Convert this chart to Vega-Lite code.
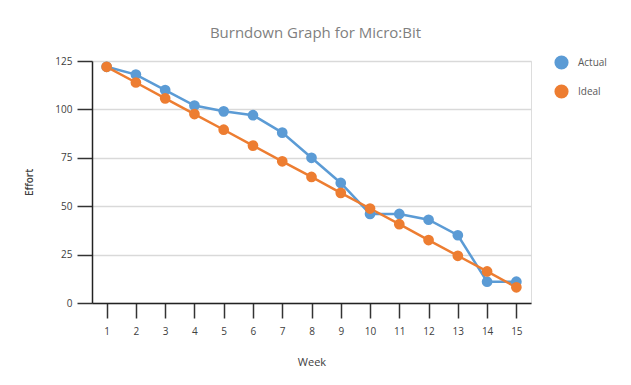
{
  "$schema": "https://vega.github.io/schema/vega-lite/v6.json",
  "width": 439,
  "height": 242,
  "autosize": "none",
  "padding": {"left": 92, "top": 61, "right": 100, "bottom": 82},
  "background": "white",
  "title": {
    "text": "Burndown Graph for Micro:Bit",
    "font": "Open Sans",
    "fontSize": 15,
    "fontWeight": "normal",
    "color": "#7f7f7f",
    "anchor": "middle",
    "dx": 4,
    "offset": 14
  },
  "data": {
    "values": [
      {"week": 1, "series": "Actual", "effort": 122},
      {"week": 2, "series": "Actual", "effort": 118},
      {"week": 3, "series": "Actual", "effort": 110},
      {"week": 4, "series": "Actual", "effort": 102},
      {"week": 5, "series": "Actual", "effort": 99},
      {"week": 6, "series": "Actual", "effort": 97},
      {"week": 7, "series": "Actual", "effort": 88},
      {"week": 8, "series": "Actual", "effort": 75},
      {"week": 9, "series": "Actual", "effort": 62},
      {"week": 10, "series": "Actual", "effort": 46},
      {"week": 11, "series": "Actual", "effort": 46},
      {"week": 12, "series": "Actual", "effort": 43},
      {"week": 13, "series": "Actual", "effort": 35},
      {"week": 14, "series": "Actual", "effort": 11},
      {"week": 15, "series": "Actual", "effort": 11},
      {"week": 1, "series": "Ideal", "effort": 122},
      {"week": 2, "series": "Ideal", "effort": 113.9},
      {"week": 3, "series": "Ideal", "effort": 105.7},
      {"week": 4, "series": "Ideal", "effort": 97.6},
      {"week": 5, "series": "Ideal", "effort": 89.5},
      {"week": 6, "series": "Ideal", "effort": 81.3},
      {"week": 7, "series": "Ideal", "effort": 73.2},
      {"week": 8, "series": "Ideal", "effort": 65.1},
      {"week": 9, "series": "Ideal", "effort": 56.9},
      {"week": 10, "series": "Ideal", "effort": 48.8},
      {"week": 11, "series": "Ideal", "effort": 40.7},
      {"week": 12, "series": "Ideal", "effort": 32.5},
      {"week": 13, "series": "Ideal", "effort": 24.4},
      {"week": 14, "series": "Ideal", "effort": 16.3},
      {"week": 15, "series": "Ideal", "effort": 8.1}
    ]
  },
  "encoding": {
    "x": {
      "field": "week",
      "type": "ordinal",
      "scale": {"type": "point", "padding": 0.5},
      "axis": {
        "title": "Week",
        "labelAngle": 0,
        "labelFont": "Open Sans",
        "labelFontSize": 10,
        "labelColor": "#404040",
        "labelPadding": 8,
        "tickSize": 15,
        "tickColor": "#333333",
        "tickWidth": 1.5,
        "domainColor": "#222222",
        "domainWidth": 1.5,
        "titleFont": "Open Sans",
        "titleFontSize": 11,
        "titleFontWeight": "normal",
        "titleColor": "#404040",
        "titlePadding": 20,
        "grid": false
      }
    },
    "y": {
      "field": "effort",
      "type": "quantitative",
      "scale": {"domain": [0, 125], "nice": false},
      "axis": {
        "title": "Effort",
        "values": [0, 25, 50, 75, 100, 125],
        "labelFont": "Open Sans",
        "labelFontSize": 10,
        "labelColor": "#404040",
        "labelPadding": 5,
        "tickSize": 15,
        "tickColor": "#333333",
        "tickWidth": 1.5,
        "domainColor": "#222222",
        "domainWidth": 1.5,
        "gridColor": "#d9d9d9",
        "gridWidth": 1.5,
        "titleFont": "Open Sans",
        "titleFontSize": 10,
        "titleFontWeight": 600,
        "titleColor": "#404040",
        "titlePadding": 20
      }
    },
    "color": {
      "field": "series",
      "type": "nominal",
      "scale": {"domain": ["Actual", "Ideal"], "range": ["#5b9bd5", "#ed7d31"]},
      "legend": {
        "title": null,
        "orient": "none",
        "legendX": 462,
        "legendY": -6,
        "symbolType": "circle",
        "symbolSize": 200,
        "symbolOpacity": 1,
        "symbolStrokeWidth": 0,
        "rowPadding": 14,
        "labelFont": "Open Sans",
        "labelFontSize": 10,
        "labelColor": "#595959",
        "labelOffset": 9
      }
    }
  },
  "layer": [
    {"mark": {"type": "line", "strokeWidth": 2.5}},
    {"mark": {"type": "point", "filled": true, "opacity": 1, "size": 115, "shape": "circle"}}
  ]
}
